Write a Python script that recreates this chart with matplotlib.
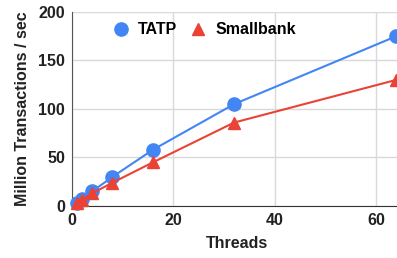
import matplotlib.pyplot as plt

plt.rcParams['font.family'] = ['Liberation Sans', 'DejaVu Sans']

threads = [1, 2, 4, 8, 16, 32, 64]
tatp = [3, 7, 15, 30, 58, 105, 175]
smallbank = [3, 6, 13, 24, 45, 86, 130]

fig = plt.figure(figsize=(3.97, 2.58), dpi=100)
ax = fig.add_axes([0.181, 0.2016, 0.83, 0.752])

ax.plot(threads, tatp, color="#4285F4", marker="o", markersize=9.5, linewidth=1.5,
        label="TATP", clip_on=False, zorder=3)
ax.plot(threads, smallbank, color="#EA4335", marker="^", markersize=8, linewidth=1.5,
        label="Smallbank", clip_on=False, zorder=3)

ax.set_xlim(0, 65)
ax.set_ylim(0, 200)
ax.set_xticks([0, 20, 40, 60])
ax.set_yticks([0, 50, 100, 150, 200])
ax.grid(True, color="#d9d9d9", linewidth=1)
ax.set_axisbelow(True)

for s in ["top", "right"]:
    ax.spines[s].set_visible(False)
ax.spines["left"].set_color("#555555")
ax.spines["bottom"].set_color("#333333")
ax.tick_params(length=0, labelsize=11.5, pad=5, colors="#222222")
for lab in ax.get_xticklabels() + ax.get_yticklabels():
    lab.set_fontweight("bold")

ax.set_xlabel("Threads", fontsize=11.5, fontweight="bold", color="#222222", labelpad=6)
ax.set_ylabel("Million Transactions / sec", fontsize=11.5, fontweight="bold", color="#222222", labelpad=6)

leg = ax.legend(loc="upper left", bbox_to_anchor=(0.08, 1.02), ncol=2, frameon=False,
                prop={"weight": "bold", "size": 11.5}, handlelength=1.0, columnspacing=0.8,
                handletextpad=0.6)
for h in leg.legend_handles:
    h.set_linestyle("")

fig.savefig("out.png", dpi=100)
